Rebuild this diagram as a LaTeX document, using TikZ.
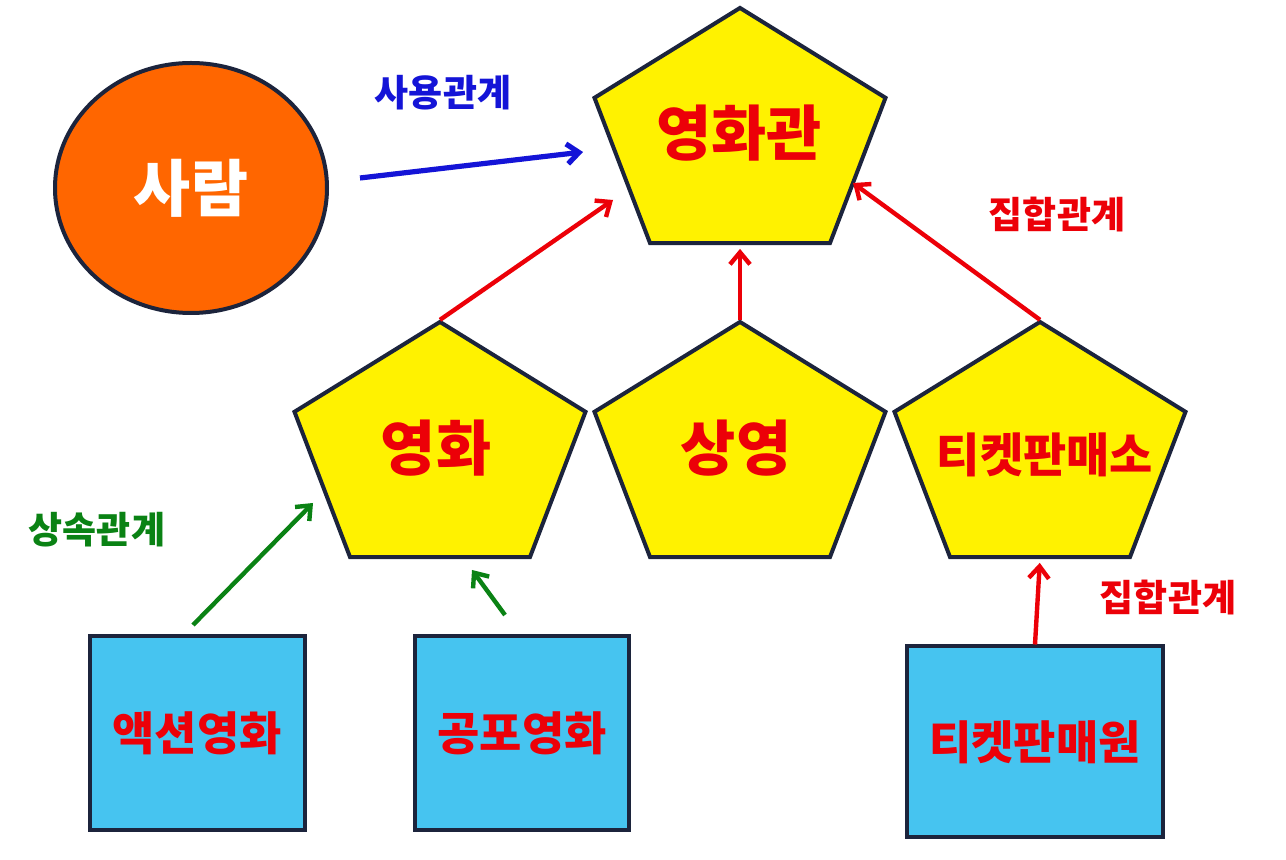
\documentclass[tikz,border=0pt]{standalone}
\usepackage{fontspec}
\setmainfont{Noto Sans CJK KR}
\usepackage{tikz}
\usetikzlibrary{positioning}
\usetikzlibrary{shapes.geometric,arrows.meta}

\definecolor{edgeline}{RGB}{28,36,60}
\definecolor{personfill}{RGB}{255,102,0}
\definecolor{classfill}{RGB}{70,196,240}
\definecolor{txtred}{RGB}{236,0,8}
\definecolor{txtblue}{RGB}{20,20,215}
\definecolor{txtgreen}{RGB}{10,130,20}

\begin{document}
\begin{tikzpicture}[x=0.5pt, y=-0.5pt,
    pent/.style = {regular polygon, regular polygon sides=5, minimum size=153pt, inner sep=0pt, yscale=0.85, transform shape, draw=edgeline, line width=2pt, fill=yellow},
    pentlabel/.style = {text=txtred, font=\bfseries\fontsize{30}{32}\selectfont},
    classbox/.style = {rectangle, draw=edgeline, line width=2pt, fill=classfill, text=txtred, font=\bfseries\fontsize{23}{25}\selectfont},
    tag/.style = {font=\bfseries\fontsize{18.5}{21}\selectfont},
    rel/.style = {line width=2.2pt, -{Straight Barb[length=6pt, width=10pt]}}]
    \fill[white] (0,0) rectangle (1286,860);
    \useasboundingbox (0,0) rectangle (1286,860);
    % Nodes
    \node[ellipse, draw=edgeline, line width=2pt, fill=personfill, minimum width=136pt, minimum height=125pt, text=white, font=\bfseries\fontsize{31}{33}\selectfont] (person) at (191,188) {사람};
    \node[pent] (hall) at (740,138) {};
    \node[pent] (film) at (440,452) {};
    \node[pent] (show) at (740,452) {};
    \node[pent] (office) at (1040,452) {};
    \node[pentlabel] (hall-t) at (739,133) {영화관};
    \node[pentlabel] (film-t) at (436,448) {영화};
    \node[pentlabel] (show-t) at (736,448) {상영};
    \node[pentlabel, font=\bfseries\fontsize{23.5}{25}\selectfont] (office-t) at (1045,455) {티켓판매소};
    \node[classbox, minimum width=107.5pt, minimum height=97pt] (action) at (197,733) {액션영화};
    \node[classbox, minimum width=107pt, minimum height=97pt] (horror) at (522,733) {공포영화};
    \node[classbox, minimum width=128pt, minimum height=95.5pt] (seller) at (1035,742) {티켓판매원};
    % Labels
    \node[tag, text=txtblue] (use-tag) at (443,93) {사용관계};
    \node[tag, text=txtred] (agg-tag1) at (1057,215) {집합관계};
    \node[tag, text=txtred] (agg-tag2) at (1168,598) {집합관계};
    \node[tag, text=txtgreen] (inh-tag) at (97,530) {상속관계};
    % Free ends
    \coordinate (use-s) at (360,178);
    \coordinate (use-e) at (583,152);
    \coordinate (film-e) at (613,200);
    \coordinate (office-e) at (853,183);
    \coordinate (action-s) at (193,625);
    \coordinate (action-e) at (313,503);
    \coordinate (horror-s) at (505,615);
    \coordinate (horror-e) at (472,570);
    % Edges
    \draw[rel, txtblue, line width=2.6pt] (use-s) -- (use-e);
    \draw[rel, txtred] (film.corner 1) -- (film-e);
    \draw[rel, txtred, shorten >=2pt] (show.corner 1) -- (hall.side 3);
    \draw[rel, txtred] (office.corner 1) -- (office-e);
    \draw[rel, txtgreen] (action-s) -- (action-e);
    \draw[rel, txtgreen] (horror-s) -- (horror-e);
    \draw[rel, txtred, shorten >=2pt] (seller.north) -- (office.side 3);
\end{tikzpicture}
\end{document}
